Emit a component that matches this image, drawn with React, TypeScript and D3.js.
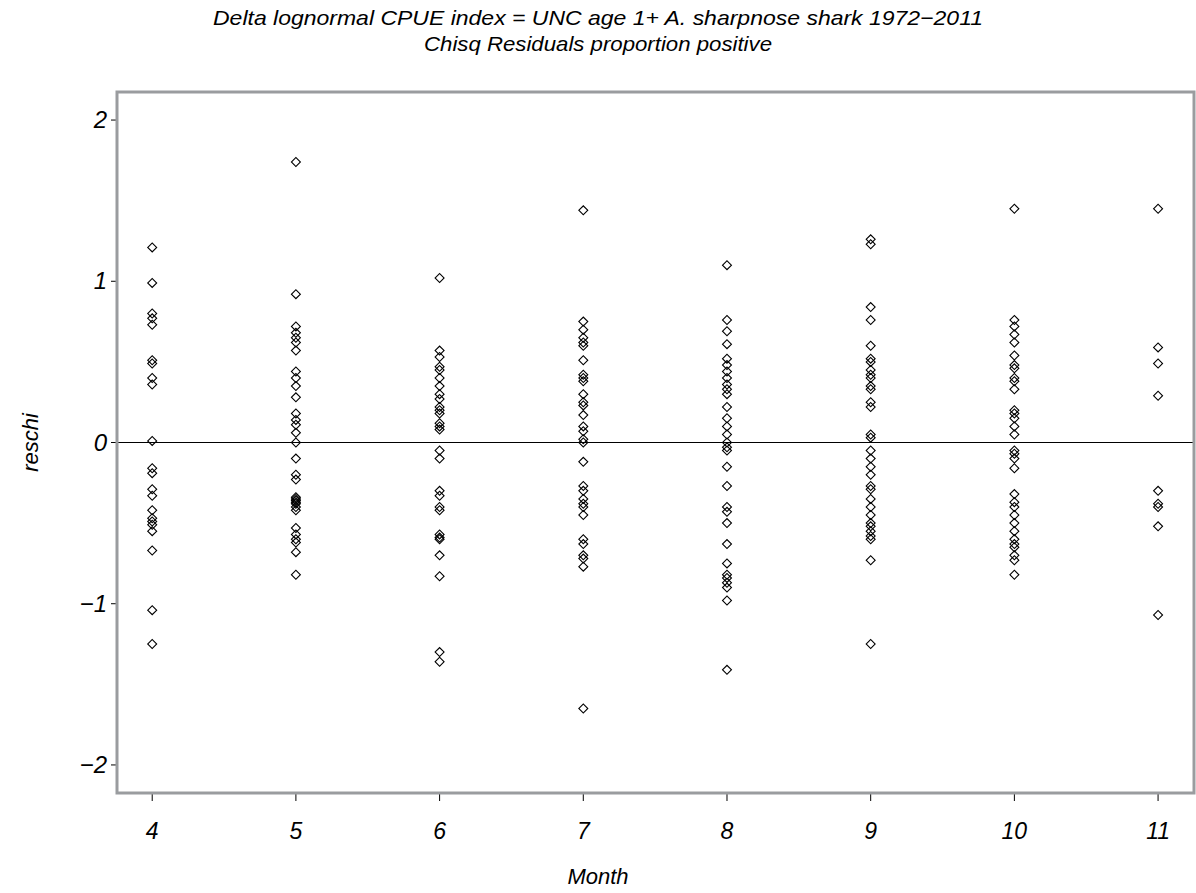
import React from 'react'
import * as d3 from 'd3'

// residuals by month
const months = [4, 5, 6, 7, 8, 9, 10, 11]

const month4 = [1.21, 0.99, 0.80, 0.77, 0.73, 0.51, 0.49, 0.40, 0.36, 0.01, -0.16, -0.19, -0.29, -0.33, -0.42, -0.47, -0.49, -0.51, -0.55, -0.67, -1.04, -1.25]
const month5 = [1.74, 0.92, 0.72, 0.68, 0.65, 0.62, 0.57, 0.44, 0.40, 0.35, 0.28, 0.18, 0.14, 0.11, 0.06, 0.0, -0.1, -0.2, -0.23, -0.34, -0.35, -0.36, -0.37, -0.38, -0.40, -0.42, -0.53, -0.57, -0.60, -0.62, -0.68, -0.82]
const month6 = [1.02, 0.57, 0.53, 0.47, 0.45, 0.40, 0.35, 0.30, 0.27, 0.22, 0.20, 0.18, 0.12, 0.10, 0.08, -0.05, -0.10, -0.30, -0.33, -0.40, -0.42, -0.57, -0.59, -0.60, -0.70, -0.83, -1.30, -1.36]
const month7 = [1.44, 0.75, 0.70, 0.65, 0.62, 0.60, 0.51, 0.42, 0.40, 0.38, 0.30, 0.25, 0.23, 0.17, 0.10, 0.07, 0.02, 0.0, -0.12, -0.27, -0.30, -0.35, -0.38, -0.40, -0.45, -0.60, -0.63, -0.70, -0.72, -0.77, -1.65]
const month8 = [1.10, 0.76, 0.69, 0.61, 0.52, 0.48, 0.44, 0.40, 0.36, 0.33, 0.30, 0.22, 0.15, 0.10, 0.05, 0.0, -0.03, -0.05, -0.15, -0.27, -0.40, -0.43, -0.50, -0.63, -0.75, -0.82, -0.84, -0.87, -0.90, -0.98, -1.41]
const month9 = [1.26, 1.23, 0.84, 0.76, 0.60, 0.52, 0.50, 0.45, 0.42, 0.40, 0.35, 0.33, 0.25, 0.22, 0.05, 0.03, -0.05, -0.10, -0.15, -0.20, -0.27, -0.29, -0.35, -0.40, -0.45, -0.50, -0.52, -0.55, -0.58, -0.60, -0.73, -1.25]
const month10 = [1.45, 0.76, 0.72, 0.67, 0.62, 0.54, 0.48, 0.46, 0.40, 0.38, 0.33, 0.20, 0.18, 0.15, 0.10, 0.05, -0.05, -0.07, -0.10, -0.16, -0.32, -0.37, -0.40, -0.45, -0.50, -0.55, -0.60, -0.63, -0.65, -0.70, -0.73, -0.82]
const month11 = [1.45, 0.59, 0.49, 0.29, -0.30, -0.38, -0.40, -0.52, -1.07]

const residuals = [month4, month5, month6, month7, month8, month9, month10, month11]

const yTicks = [-2, -1, 0, 1, 2]

const titleLine1 = 'Delta lognormal CPUE index = UNC age 1+ A. sharpnose shark 1972\u22122011'
const titleLine2 = 'Chisq Residuals proportion positive'

const font = '"Liberation Sans", Arial, sans-serif'

export default function App() {
  const width = 1196
  const height = 893
  const left = 117, right = 1194, top = 92, bottom = 793

  const x = d3.scaleLinear().domain([3.755, 11.25]).range([left, right])
  const y = d3.scaleLinear().domain([-2.174, 2.174]).range([bottom, top])

  const diamond = d3.symbol().type(d3.symbolSquare).size(40)()

  const points = residuals.flatMap((vals, i) => vals.map(v => ({ m: months[i], v })))

  const fmt = (t: number) => (t < 0 ? '\u2212' + Math.abs(t) : String(t))

  return (
    <svg width={width} height={height} style={{ position: 'absolute', left: 0, top: 0, background: '#fff' }}>
      <g fontFamily={font} fontStyle="italic" fill="#000">
        <text x={598} y={25} textAnchor="middle" fontSize={21} textLength={770} lengthAdjust="spacingAndGlyphs">{titleLine1}</text>
        <text x={598} y={51} textAnchor="middle" fontSize={21} textLength={348} lengthAdjust="spacingAndGlyphs">{titleLine2}</text>
      </g>

      {/* zero reference */}
      <line x1={left} x2={right} y1={y(0)} y2={y(0)} stroke="#000" strokeWidth={1} />

      {/* y ticks */}
      {yTicks.map(t => (
        <g key={t}>
          <line x1={left - 6} x2={left} y1={y(t)} y2={y(t)} stroke="#000" strokeWidth={1} />
          <text x={left - 10} y={y(t) + 8} textAnchor="end" fontFamily={font} fontStyle="italic" fontSize={24}>{fmt(t)}</text>
        </g>
      ))}

      {/* x ticks */}
      {months.map(m => (
        <g key={m}>
          <line x1={x(m)} x2={x(m)} y1={bottom} y2={bottom + 8} stroke="#000" strokeWidth={1} />
          <text x={x(m)} y={bottom + 46} textAnchor="middle" fontFamily={font} fontStyle="italic" fontSize={23}>{m}</text>
        </g>
      ))}

      <text x={598} y={884} textAnchor="middle" fontFamily={font} fontStyle="italic" fontSize={22}>Month</text>
      <text transform={`translate(38,${y(0)}) rotate(-90)`} textAnchor="middle" fontFamily={font} fontStyle="italic" fontSize={22}>reschi</text>

      {/* points */}
      {points.map((p, i) => (
        <path key={i} d={diamond || ''} transform={`translate(${x(p.m)},${y(p.v)}) rotate(45)`}
          fill="none" stroke="#000" strokeWidth={1.1} />
      ))}

      {/* frame */}
      <rect x={left} y={top} width={right - left} height={bottom - top} fill="none" stroke="#9a9c9f" strokeWidth={3} />
    </svg>
  )
}
